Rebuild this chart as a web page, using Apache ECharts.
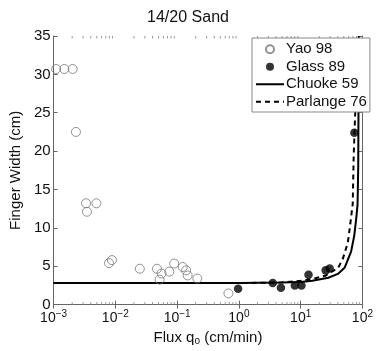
<!DOCTYPE html>
<html><head><meta charset="utf-8">
<script src="https://cdn.jsdelivr.net/npm/echarts@6/dist/echarts.min.js"></script>
<style>html,body{margin:0;padding:0;background:#fff}#c{width:376px;height:351px}</style>
</head><body><div id="c"></div>
<script>
var titleText = '14/20 Sand';
var xTicks = [0.001, 0.01, 0.1, 1, 10, 100];
var yTicks = [0, 5, 10, 15, 20, 25, 30, 35];
var minorTicks = [0.002,0.003,0.004,0.005,0.006,0.007,0.008,0.009,
  0.02,0.03,0.04,0.05,0.06,0.07,0.08,0.09,
  0.2,0.3,0.4,0.5,0.6,0.7,0.8,0.9,
  2,3,4,5,6,7,8,9,
  20,30,40,50,60,70,80,90];
var yao98 = [[0.0011,30.7],[0.00149,30.7],[0.00204,30.7],[0.0023,22.5],[0.00335,13.2],[0.00347,12.1],[0.00493,13.2],
  [0.0079,5.4],[0.0088,5.8],[0.0249,4.67],[0.0472,4.67],[0.052,3.25],[0.056,4.05],[0.0748,4.3],[0.0897,5.35],
  [0.123,4.9],[0.14,4.46],[0.148,3.8],[0.212,3.4],[0.676,1.46]];
var glass89 = [[0.97,2.08],[3.53,2.8],[4.79,2.2],[8.05,2.5],[10.3,2.5],[13.4,3.9],[25.4,4.46],[29.5,4.7],[74,22.4]];
var chuoke59 = [[0.001,2.8],[1,2.82],[5,2.88],[10,2.95],[15.4,3.1],[28,3.5],[40,4.0],[51.4,4.8],[65.5,6.9],[73.8,9.0],[80,11.5],[83.4,13.1],[85.5,18],[86.5,27],[87.2,35]];
var parlange76 = [[0.001,2.8],[1,2.8],[5,2.9],[10,3.1],[15.4,3.34],[24.9,3.75],[40.5,4.79],[48.5,6.04],[58.1,8.1],[63.8,10.6],[69.6,13.1],[72.2,19.4],[76.6,25.25],[78.5,35]];

var axisCol = '#666';
function supLabel(v){
  var e = Math.round(Math.log(v)/Math.LN10);
  return '{b|10}{s|' + (e < 0 ? '\u2212' + (-e) : e) + '}';
}
var chart = echarts.init(document.getElementById('c'));
var fontFam = '"Liberation Sans", Arial, sans-serif';
var hideSym = {opacity: 0, color: 'rgba(0,0,0,0)', borderWidth: 0};
chart.setOption({
  animation: false,
  textStyle: {fontFamily: fontFam},
  title: {text: titleText, left: 'center', top: 10, padding: 0,
    textStyle: {fontSize: 16, fontWeight: 'normal', color: '#111', fontFamily: fontFam}},
  grid: {left: 53, right: 4, top: 36, bottom: 36},
  legend: {
    orient: 'vertical', left: 252, top: 38, padding: [3, 3, 2, 3], itemGap: 1,
    itemWidth: 28, itemHeight: 8,
    backgroundColor: '#fff', borderColor: '#888', borderWidth: 1,
    textStyle: {fontSize: 15, color: '#111', fontFamily: fontFam, lineHeight: 16.5, padding: [0, 0, 0, -3]},
    data: [
      {name: 'Yao 98'},
      {name: 'Glass 89'},
      {name: 'Chuoke 59', itemStyle: hideSym},
      {name: 'Parlange 76', itemStyle: hideSym}
    ]
  },
  xAxis: [{
    type: 'log', logBase: 10, min: 0.001, max: 100,
    axisLine: {lineStyle: {color: axisCol}},
    axisTick: {inside: true, length: 4, lineStyle: {color: axisCol}},
    splitLine: {show: false},
    axisLabel: {formatter: supLabel, margin: 5, color: '#111',
      rich: {b: {fontSize: 14, fontFamily: fontFam, color: '#111'},
             s: {fontSize: 10, fontFamily: fontFam, color: '#111', verticalAlign: 'bottom', padding: [0, 0, 8, 0]}}},
    name: '{t|Flux q}{o|o}{t| (cm/min)}', nameLocation: 'middle', nameGap: 22,
    nameTextStyle: {rich: {t: {fontSize: 15, fontFamily: fontFam, color: '#111'},
                           o: {fontSize: 10, fontFamily: fontFam, color: '#111', verticalAlign: 'top', padding: [6, 0, 0, 0]}}}
  }, {
    type: 'log', logBase: 10, min: 0.001, max: 100, position: 'top',
    axisLine: {lineStyle: {color: axisCol}},
    axisTick: {inside: true, length: 4, lineStyle: {color: axisCol}},
    axisLabel: {show: false}, splitLine: {show: false}
  }],
  yAxis: [{
    type: 'value', min: 0, max: 35, interval: 5,
    axisLine: {show: true, lineStyle: {color: axisCol}},
    axisTick: {show: true, inside: true, length: 4, lineStyle: {color: axisCol}},
    splitLine: {show: false},
    axisLabel: {fontSize: 15, color: '#111', margin: 3, fontFamily: fontFam},
    name: 'Finger Width (cm)', nameLocation: 'middle', nameGap: 24,
    nameTextStyle: {fontSize: 15, color: '#111', fontFamily: fontFam}
  }, {
    type: 'value', min: 0, max: 35, interval: 5, position: 'right',
    axisLine: {show: true, lineStyle: {color: axisCol}},
    axisTick: {show: true, inside: true, length: 4, lineStyle: {color: axisCol}},
    axisLabel: {show: false}, splitLine: {show: false}
  }],
  series: [{
    type: 'custom', silent: true, z: 1,
    data: minorTicks.map(function(v){ return [v]; }),
    renderItem: function(params, api){
      var v = api.value(0);
      var b = api.coord([v, 0]);
      var t = api.coord([v, 35]);
      var st = {stroke: '#999', lineWidth: 1};
      return {type: 'group', children: [
        {type: 'line', shape: {x1: b[0], y1: b[1], x2: b[0], y2: b[1] - 2.5}, style: st},
        {type: 'line', shape: {x1: t[0], y1: t[1], x2: t[0], y2: t[1] + 2.5}, style: st}
      ]};
    }
  }, {
    name: 'Chuoke 59', type: 'line', data: chuoke59, showSymbol: false, symbol: 'none', z: 3,
    lineStyle: {color: '#000', width: 2}, itemStyle: {color: '#000'}
  }, {
    name: 'Parlange 76', type: 'line', data: parlange76, showSymbol: false, symbol: 'none', z: 3,
    lineStyle: {color: '#000', width: 2, type: [5, 4]}, itemStyle: {color: '#000'}
  }, {
    name: 'Yao 98', type: 'scatter', data: yao98, symbol: 'circle', symbolSize: 9, z: 4,
    itemStyle: {color: 'rgba(255,255,255,0)', borderColor: '#777', borderWidth: 1}
  }, {
    name: 'Glass 89', type: 'scatter', data: glass89, symbol: 'circle', symbolSize: 8.5, z: 4,
    itemStyle: {color: '#000'}
  }]
});
</script></body></html>
